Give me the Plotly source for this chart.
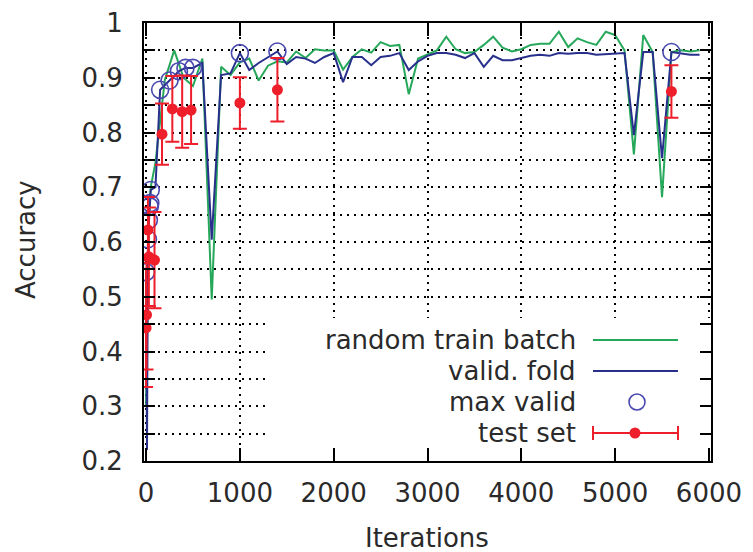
import plotly.graph_objects as go

# ---------------- data ----------------
train_iter = [0, 10, 20, 30, 40, 50, 100, 200, 300, 400, 500, 600, 700, 800, 900,
              1000, 1100, 1200, 1300, 1400, 1500, 1600, 1700, 1800, 1900,
              2000, 2100, 2200, 2300, 2400, 2500, 2600, 2700, 2800, 2900,
              3000, 3100, 3200, 3300, 3400, 3500, 3600, 3700, 3800, 3900,
              4000, 4100, 4200, 4300, 4400, 4500, 4600, 4700, 4800, 4900,
              5000, 5100, 5200, 5300, 5400, 5500, 5600, 5700, 5800, 5900]
train_acc = [0.30, 0.42, 0.58, 0.64, 0.68, 0.70, 0.745, 0.896, 0.950, 0.900, 0.885, 0.935, 0.495, 0.920, 0.905,
             0.928, 0.935, 0.895, 0.922, 0.930, 0.928, 0.948, 0.936, 0.952, 0.950,
             0.950, 0.915, 0.938, 0.952, 0.946, 0.965, 0.958, 0.960, 0.870, 0.935,
             0.942, 0.950, 0.975, 0.952, 0.945, 0.947, 0.960, 0.975, 0.955, 0.948,
             0.952, 0.960, 0.962, 0.962, 0.984, 0.956, 0.972, 0.965, 0.960, 0.984,
             0.978, 0.950, 0.760, 0.978, 0.947, 0.682, 0.947, 0.950, 0.948, 0.950]

valid_iter = [0, 10, 20, 30, 40, 45, 50, 100, 150, 250, 350, 420, 500, 600, 700, 800, 900,
              1000, 1100, 1200, 1300, 1400, 1500, 1600, 1700, 1800, 1900,
              2000, 2100, 2200, 2300, 2400, 2500, 2600, 2700, 2800, 2900,
              3000, 3100, 3200, 3300, 3400, 3500, 3600, 3700, 3800, 3900,
              4000, 4100, 4200, 4300, 4400, 4500, 4600, 4700, 4800, 4900,
              5000, 5100, 5200, 5300, 5400, 5500, 5600, 5700, 5800, 5900]
valid_acc = [0.545, 0.22, 0.605, 0.640, 0.665, 0.671, 0.695, 0.700, 0.878, 0.895, 0.912, 0.918, 0.918, 0.927, 0.604, 0.905, 0.908,
             0.945, 0.914, 0.927, 0.937, 0.948, 0.925, 0.938, 0.935, 0.927, 0.938,
             0.945, 0.892, 0.938, 0.938, 0.923, 0.938, 0.940, 0.945, 0.914, 0.930,
             0.940, 0.945, 0.945, 0.942, 0.936, 0.945, 0.920, 0.940, 0.932, 0.932,
             0.936, 0.940, 0.942, 0.940, 0.945, 0.944, 0.945, 0.945, 0.942, 0.943,
             0.945, 0.945, 0.795, 0.947, 0.947, 0.753, 0.947, 0.944, 0.942, 0.942]

maxvalid_iter = [0, 20, 30, 40, 45, 50, 150, 250, 350, 420, 500, 1000, 1400, 5600]
maxvalid_acc = [0.545, 0.605, 0.640, 0.665, 0.671, 0.695, 0.878, 0.895, 0.912, 0.918, 0.918, 0.945, 0.948, 0.947]

test_iter = [0, 5, 20, 30, 90, 170, 280, 385, 480, 1000, 1400, 5600]
test_acc = [0.443, 0.467, 0.622, 0.573, 0.567, 0.797, 0.843, 0.838, 0.841, 0.854, 0.878, 0.875]
test_err = [0.108, 0.100, 0.060, 0.090, 0.088, 0.056, 0.060, 0.066, 0.062, 0.047, 0.058, 0.048]

legend_labels = ["random train batch", "valid. fold", "max valid", "test set"]
x_ticks = [0, 1000, 2000, 3000, 4000, 5000, 6000]
y_ticks = [0.2, 0.25, 0.3, 0.35, 0.4, 0.45, 0.5, 0.55, 0.6, 0.65, 0.7, 0.75, 0.8, 0.85, 0.9, 0.95, 1.0]
y_ticktext = ["0.2", "", "0.3", "", "0.4", "", "0.5", "", "0.6", "", "0.7", "", "0.8", "", "0.9", "", "1"]

# ---------------- style ----------------
GREEN = "rgb(38,168,90)"
BLUE = "rgb(40,48,140)"
CIRC = "rgb(72,72,175)"
RED = "rgb(238,30,42)"
FONT = "DejaVu Sans"
TXT = "#2a2a2a"

X_RANGE = [-22, 6022]
Y_RANGE = [0.2, 1.0]

fig = go.Figure()
fig.add_trace(go.Scatter(x=train_iter, y=train_acc, mode="lines",
                         line=dict(color=GREEN, width=2), name=legend_labels[0], showlegend=False))
fig.add_trace(go.Scatter(x=valid_iter, y=valid_acc, mode="lines",
                         line=dict(color=BLUE, width=2), name=legend_labels[1], showlegend=False))
fig.add_trace(go.Scatter(x=maxvalid_iter, y=maxvalid_acc, mode="markers",
                         marker=dict(symbol="circle-open", size=17, color=CIRC, line=dict(width=1.6, color=CIRC)),
                         name=legend_labels[2], showlegend=False))
fig.add_trace(go.Scatter(x=test_iter, y=test_acc, mode="markers",
                         marker=dict(symbol="circle", size=11, color=RED),
                         error_y=dict(type="data", array=test_err, visible=True, color=RED, thickness=2, width=7),
                         name=legend_labels[3], showlegend=False))

# ---------------- custom legend (text right-aligned, sample on the right) ----------------
L, R, T, B = 144, 711, 23, 461


def px_x(p):
    return (p - L) / float(R - L)


def px_y(p):
    return (B - p) / float(B - T)


def data_x(p):
    return X_RANGE[0] + (X_RANGE[1] - X_RANGE[0]) * px_x(p)


def data_y(p):
    return Y_RANGE[0] + (Y_RANGE[1] - Y_RANGE[0]) * px_y(p)


shapes = []
annotations = []
# white key box hiding the grid (between gridlines and traces)
shapes.append(dict(type="rect", xref="x", yref="y", x0=data_x(266), x1=X_RANGE[1] + 200,
                   y0=Y_RANGE[0] - 0.05, y1=data_y(318),
                   fillcolor="white", line=dict(width=0), layer="between"))
rows = [340, 371, 402, 433]
tx = px_x(578)
sx0, sx1 = px_x(593), px_x(678)
for lab, ry in zip(legend_labels, rows):
    annotations.append(dict(text=lab, xref="paper", yref="paper", x=tx, y=px_y(ry),
                            xanchor="right", yanchor="middle", showarrow=False,
                            font=dict(family=FONT, size=26, color=TXT)))
shapes.append(dict(type="line", xref="paper", yref="paper", x0=sx0, x1=sx1, y0=px_y(rows[0]), y1=px_y(rows[0]),
                   line=dict(color=GREEN, width=2), layer="above"))
shapes.append(dict(type="line", xref="paper", yref="paper", x0=sx0, x1=sx1, y0=px_y(rows[1]), y1=px_y(rows[1]),
                   line=dict(color=BLUE, width=2), layer="above"))
shapes.append(dict(type="circle", xref="paper", yref="paper", xsizemode="pixel", ysizemode="pixel",
                   xanchor=px_x(637), yanchor=px_y(rows[2]), x0=-8, x1=8, y0=-8, y1=8,
                   line=dict(color=CIRC, width=1.6), layer="above"))
shapes.append(dict(type="line", xref="paper", yref="paper", x0=sx0, x1=sx1, y0=px_y(rows[3]), y1=px_y(rows[3]),
                   line=dict(color=RED, width=2), layer="above"))
for cx in (sx0, sx1):
    shapes.append(dict(type="line", xref="paper", yref="paper", ysizemode="pixel", yanchor=px_y(rows[3]),
                       x0=cx, x1=cx, y0=-7, y1=7, line=dict(color=RED, width=2), layer="above"))
shapes.append(dict(type="circle", xref="paper", yref="paper", xsizemode="pixel", ysizemode="pixel",
                   xanchor=px_x(635), yanchor=px_y(rows[3]), x0=-5.5, x1=5.5, y0=-5.5, y1=5.5,
                   fillcolor=RED, line=dict(color=RED, width=0), layer="above"))

# axis titles
annotations.append(dict(text="Iterations", xref="paper", yref="paper", x=px_x(427), y=px_y(538),
                        xanchor="center", yanchor="middle", showarrow=False,
                        font=dict(family=FONT, size=26, color=TXT)))
annotations.append(dict(text="Accuracy", xref="paper", yref="paper", x=px_x(26), y=px_y(240),
                        xanchor="center", yanchor="middle", showarrow=False, textangle=-90,
                        font=dict(family=FONT, size=26, color=TXT)))

fig.update_layout(
    width=753, height=552,
    margin=dict(l=L, r=753 - R, t=T, b=552 - B, autoexpand=False),
    paper_bgcolor="white", plot_bgcolor="white",
    showlegend=False,
    shapes=shapes, annotations=annotations,
    font=dict(family=FONT, size=26, color=TXT),
)
fig.update_xaxes(range=X_RANGE, tickvals=x_ticks, ticks="inside", ticklen=13, tickwidth=2,
                 tickcolor="black", showline=True, linecolor="black", linewidth=2, mirror="allticks",
                 showgrid=True, gridcolor="black", gridwidth=2, griddash="2px,5px", zeroline=False,
                 automargin=False, ticklabelstandoff=8, tickfont=dict(family=FONT, size=26, color=TXT))
fig.update_yaxes(range=Y_RANGE, tickvals=y_ticks, ticktext=y_ticktext, ticks="inside", ticklen=11, tickwidth=2,
                 tickcolor="black", showline=True, linecolor="black", linewidth=2, mirror="allticks",
                 showgrid=True, gridcolor="black", gridwidth=2, griddash="2px,5px", zeroline=False,
                 automargin=False, ticklabelstandoff=14, tickfont=dict(family=FONT, size=26, color=TXT))

fig.write_html("out.html", config={"displayModeBar": False},
               post_script="document.body.style.margin='0';document.body.style.overflow='hidden';")
